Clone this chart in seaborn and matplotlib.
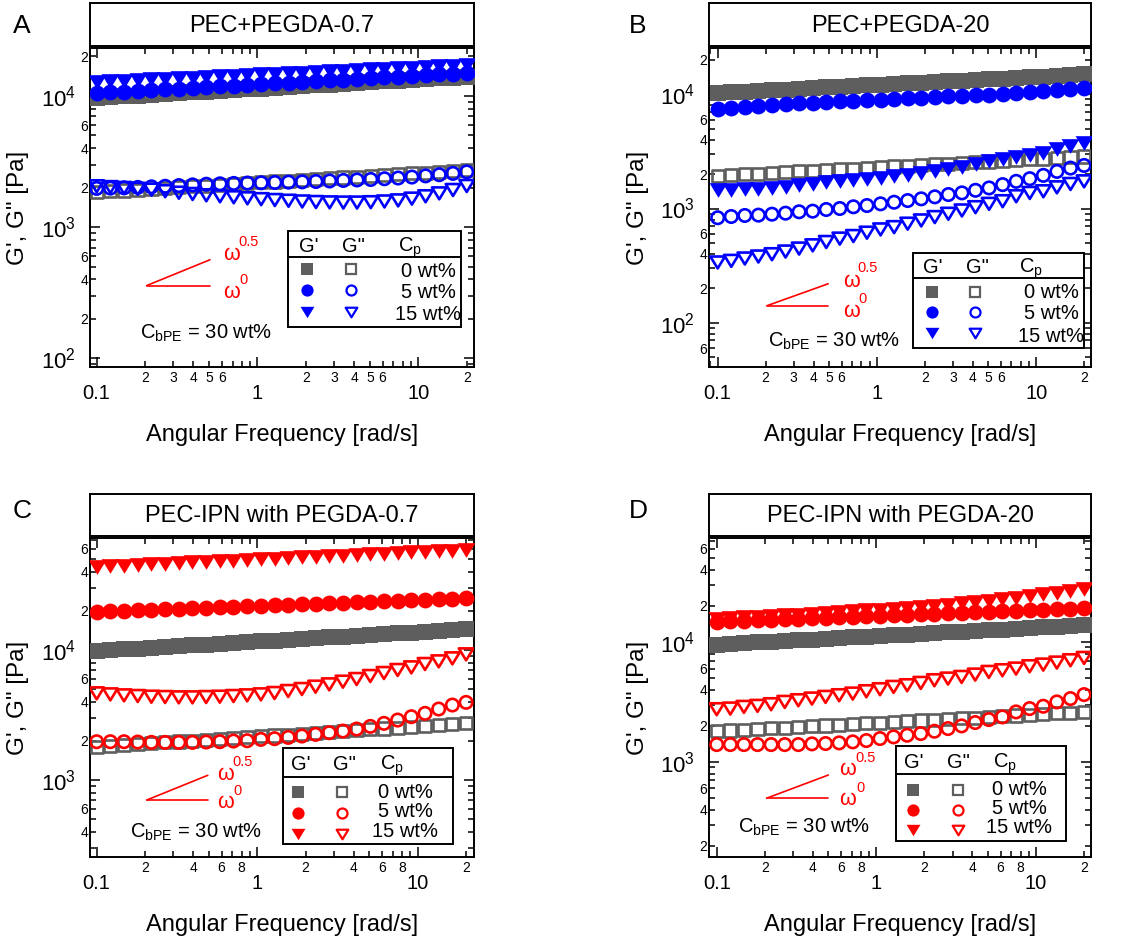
import numpy as np
import pandas as pd
import matplotlib
matplotlib.use("Agg")
import matplotlib.pyplot as plt
import seaborn as sns
from matplotlib.ticker import FixedLocator, FuncFormatter
from matplotlib.patches import Rectangle
from matplotlib.lines import Line2D
from matplotlib.path import Path

# ---------------- data ----------------
freq = [0.1, 0.1217, 0.1481, 0.1802, 0.2192, 0.2668, 0.3246, 0.3950, 0.4806,
        0.5848, 0.7116, 0.8658, 1.054, 1.282, 1.560, 1.898, 2.309, 2.810,
        3.419, 4.160, 5.062, 6.160, 7.495, 9.120, 11.10, 13.50, 16.43, 20.0]

# Panel A: PEC+PEGDA-0.7
A_Gp_0 = [9650, 9780, 9920, 10060, 10200, 10340, 10480, 10630, 10780, 10930, 11080, 11230, 11390, 11550,
          11710, 11870, 12040, 12200, 12370, 12550, 12720, 12900, 13080, 13260, 13440, 13630, 13820, 14010]
A_Gp_5 = [10500, 10640, 10780, 10930, 11070, 11220, 11370, 11520, 11670, 11830, 11980, 12140, 12310, 12470,
          12630, 12800, 12970, 13150, 13320, 13500, 13680, 13860, 14040, 14230, 14420, 14610, 14810, 15000]
A_Gp_15 = [12800, 12940, 13080, 13230, 13370, 13520, 13670, 13820, 13970, 14130, 14280, 14440, 14600, 14760,
           14920, 15080, 15250, 15420, 15590, 15760, 15930, 16110, 16280, 16460, 16640, 16830, 17010, 17200]
A_Gpp_0 = [1850, 1877, 1904, 1931, 1959, 1987, 2015, 2044, 2074, 2103, 2134, 2164, 2195, 2227,
           2259, 2291, 2324, 2358, 2391, 2426, 2461, 2496, 2532, 2568, 2605, 2643, 2681, 2719]
A_Gpp_5 = [1975, 1985, 1995, 2010, 2030, 2050, 2075, 2100, 2125, 2140, 2155, 2170, 2180, 2190,
           2205, 2215, 2230, 2250, 2270, 2290, 2310, 2340, 2370, 2410, 2460, 2510, 2570, 2640]
A_Gpp_15 = [2050, 2020, 1990, 1960, 1930, 1880, 1830, 1790, 1750, 1720, 1690, 1660, 1635, 1610,
            1590, 1570, 1555, 1545, 1540, 1540, 1550, 1570, 1600, 1650, 1720, 1810, 1920, 2060]

# Panel B: PEC+PEGDA-20
B_Gp_0 = [10260, 10400, 10550, 10690, 10840, 10990, 11150, 11300, 11460, 11620, 11780, 11940, 12110, 12280,
          12450, 12620, 12800, 12980, 13160, 13340, 13530, 13710, 13900, 14100, 14290, 14490, 14690, 14900]
B_Gp_5 = [7360, 7560, 7740, 7890, 8020, 8170, 8320, 8450, 8575, 8680, 8790, 8890, 8990, 9110,
          9230, 9360, 9480, 9590, 9700, 9820, 9940, 10100, 10270, 10440, 10620, 10870, 11150, 11430]
B_Gp_15 = [1443, 1460, 1478, 1496, 1514, 1555, 1600, 1645, 1694, 1730, 1770, 1810, 1850, 1910,
           1975, 2045, 2113, 2200, 2300, 2440, 2579, 2700, 2840, 2960, 3090, 3290, 3500, 3720]
B_Gpp_0 = [1937, 1965, 1993, 2022, 2051, 2081, 2111, 2141, 2172, 2203, 2235, 2267, 2300, 2333,
           2366, 2400, 2435, 2470, 2505, 2541, 2578, 2615, 2653, 2691, 2730, 2769, 2809, 2850]
B_Gpp_5 = [830, 851, 869, 875, 892, 910, 936, 948, 980, 1000, 1035, 1062, 1099, 1135,
           1174, 1215, 1265, 1325, 1370, 1443, 1514, 1618, 1729, 1824, 1950, 2112, 2259, 2381]
B_Gpp_15 = [337, 348, 365, 380, 398, 420, 446, 476, 509, 545, 574, 614, 656, 687,
            736, 786, 841, 899, 961, 1027, 1098, 1158, 1280, 1368, 1415, 1532, 1639, 1729]

# Panel C: PEC-IPN with PEGDA-0.7
C_Gp_0 = [9820, 9960, 10100, 10250, 10390, 10540, 10690, 10850, 11000, 11160, 11320, 11480, 11640, 11810,
          11980, 12150, 12320, 12500, 12680, 12860, 13040, 13230, 13420, 13610, 13800, 14000, 14200, 14400]
C_Gp_5 = [19700, 19880, 20050, 20230, 20410, 20590, 20770, 20960, 21140, 21330, 21520, 21710, 21900, 22100,
          22290, 22490, 22690, 22890, 23090, 23300, 23510, 23710, 23930, 24140, 24350, 24570, 24790, 25000]
C_Gp_15 = [43700, 44180, 44670, 45170, 45660, 46170, 46680, 47190, 47720, 48240, 48780, 49310, 49860, 50410,
           50970, 51530, 52100, 52680, 53260, 53850, 54440, 55040, 55650, 56260, 56890, 57510, 58150, 58790]
C_Gpp_0 = [1804, 1832, 1860, 1889, 1918, 1948, 1978, 2009, 2040, 2071, 2103, 2136, 2169, 2202,
           2236, 2271, 2306, 2342, 2378, 2415, 2452, 2490, 2529, 2568, 2607, 2648, 2689, 2730]
C_Gpp_5 = [1972, 1972, 1972, 1960, 1949, 1949, 1949, 1949, 1960, 1972, 1995, 2007, 2055, 2080,
           2129, 2181, 2246, 2313, 2382, 2468, 2587, 2729, 2894, 3070, 3257, 3518, 3776, 3957]
C_Gpp_15 = [4642, 4560, 4480, 4428, 4375, 4350, 4324, 4324, 4350, 4375, 4428, 4480, 4560, 4669,
            4838, 5012, 5223, 5444, 5706, 5983, 6310, 6655, 7019, 7356, 7804, 8180, 8627, 9262]

# Panel D: PEC-IPN with PEGDA-20
D_Gp_0 = [9500, 9631, 9765, 9900, 10040, 10180, 10320, 10460, 10600, 10750, 10900, 11050, 11200, 11360,
          11520, 11680, 11840, 12000, 12170, 12330, 12510, 12680, 12850, 13030, 13210, 13390, 13580, 13770]
D_Gp_5 = [14680, 14830, 14970, 15120, 15270, 15430, 15580, 15740, 15890, 16050, 16210, 16370, 16540, 16700,
          16870, 17030, 17200, 17380, 17550, 17720, 17900, 18080, 18260, 18440, 18630, 18810, 19000, 19190]
D_Gp_15 = [15650, 15850, 16050, 16260, 16470, 16680, 16900, 17220, 17450, 17670, 18010, 18360, 18600, 18960,
           19320, 19700, 20080, 20470, 21000, 21540, 22100, 22680, 23420, 24180, 24960, 25780, 26780, 27830]
D_Gpp_0 = [1803, 1828, 1853, 1879, 1905, 1931, 1958, 1985, 2012, 2040, 2068, 2097, 2126, 2155,
           2185, 2215, 2246, 2277, 2308, 2340, 2372, 2405, 2438, 2472, 2506, 2541, 2576, 2611]
D_Gpp_5 = [1394, 1394, 1394, 1394, 1394, 1394, 1394, 1413, 1422, 1440, 1468, 1506, 1565, 1616,
           1668, 1722, 1801, 1896, 1995, 2128, 2254, 2371, 2610, 2783, 2910, 3162, 3371, 3640]
D_Gpp_15 = [2748, 2783, 2873, 2929, 3024, 3162, 3265, 3371, 3481, 3594, 3710, 3880, 4033, 4217,
            4354, 4553, 4792, 4948, 5108, 5342, 5623, 5806, 5995, 6270, 6473, 6726, 7034, 7356]

titles = ["PEC+PEGDA-0.7", "PEC+PEGDA-20", "PEC-IPN with PEGDA-0.7", "PEC-IPN with PEGDA-20"]
panel_letters = ["A", "B", "C", "D"]
conc_labels = ["0 wt%", "5 wt%", "15 wt%"]
legend_header = ["G'", 'G"', r"C$_{\mathrm{p}}$"]
cbpe_label = r"C$_{\mathrm{bPE}}$ = 30 wt%"
x_label = "Angular Frequency [rad/s]"
y_label = "G', G\" [Pa]"
x_major = [0.1, 1, 10]
x_major_labels = ["0.1", "1", "10"]

# slope guide (omega^0.5 / omega^0): vertex x, end x, vertex y
guide_x = {"A": [0.2047, 0.5064], "B": [0.204, 0.494], "C": [0.205, 0.492], "D": [0.2056, 0.50]}
guide_y = {"A": 359, "B": 141, "C": 702, "D": 498}

series = {
    "A": [A_Gp_0, A_Gp_5, A_Gp_15, A_Gpp_0, A_Gpp_5, A_Gpp_15],
    "B": [B_Gp_0, B_Gp_5, B_Gp_15, B_Gpp_0, B_Gpp_5, B_Gpp_15],
    "C": [C_Gp_0, C_Gp_5, C_Gp_15, C_Gpp_0, C_Gpp_5, C_Gpp_15],
    "D": [D_Gp_0, D_Gp_5, D_Gp_15, D_Gpp_0, D_Gpp_5, D_Gpp_15],
}

GRAY = "#5e5e5e"
BLUE = "#0000ff"
RED = "#ff0000"

# ---------------- layout (pixels) ----------------
layout = {
    "A": dict(ax=(90, 48, 474, 367), tbox=(90, 3, 474, 46), xlim=(0.0909, 22.2), ylim=(86, 23200),
              xminor_lab=[2, 3, 4, 5, 6], color=BLUE, letter=(13, 33), ylx=-0.1875,
              omega=[(223, 260), (238, 246), (223, 298), (239, 284)], cbpe=(140, 339),
              leg=dict(box=(288, 231, 461, 327), sep=257, head_base=252, head_x=(299, 342, 398),
                       col=(307, 351), rows=(269, 290, 312), txt_c=428, txt_base=(277, 298, 320))),
    "B": dict(ax=(709, 48, 1091, 367), tbox=(709, 3, 1091, 46), xlim=(0.0882, 22.1), ylim=(41, 25400),
              xminor_lab=[2, 3, 4, 5, 6], color=BLUE, letter=(629, 33), ylx=-0.186,
              omega=[(843, 287), (857, 272), (843, 317), (858, 303)], cbpe=(768, 347),
              leg=dict(box=(913, 253, 1084, 348), sep=278, head_base=273, head_x=(923, 966, 1019),
                       col=(932, 975), rows=(292, 312, 333), txt_c=1051, txt_base=(298, 319, 342))),
    "C": dict(ax=(90, 538, 474, 857), tbox=(90, 494, 474, 536), xlim=(0.0909, 22.4), ylim=(256, 72700),
              xminor_lab=[2, 4, 6, 8], color=RED, letter=(13, 518), ylx=-0.1875,
              omega=[(217, 780), (232, 766), (217, 808), (233, 795)], cbpe=(130, 838),
              leg=dict(box=(283, 748, 453, 844), sep=777, head_base=770, head_x=(291, 333, 380),
                       col=(298, 342), rows=(792, 813, 834), txt_c=405, txt_base=(798, 817, 837))),
    "D": dict(ax=(709, 538, 1091, 857), tbox=(709, 494, 1091, 536), xlim=(0.0895, 22.1), ylim=(161, 73600),
              xminor_lab=[2, 4, 6, 8], color=RED, letter=(629, 518), ylx=-0.186,
              omega=[(839, 775), (855, 762), (839, 805), (856, 792)], cbpe=(738, 833),
              leg=dict(box=(896, 746, 1066, 841), sep=774, head_base=768, head_x=(904, 947, 993),
                       col=(913, 958), rows=(790, 810, 830), txt_c=1019, txt_base=(795, 814, 833))),
}

# ---------------- style ----------------
sns.set_style("ticks")
plt.rcParams["font.family"] = ["Liberation Sans", "DejaVu Sans"]
plt.rcParams["mathtext.fontset"] = "custom"
plt.rcParams["mathtext.rm"] = "Liberation Sans"
plt.rcParams["mathtext.it"] = "Liberation Sans:italic"
plt.rcParams["mathtext.bf"] = "Liberation Sans:bold"
plt.rcParams["mathtext.default"] = "regular"
for k in ["text.color", "axes.labelcolor", "xtick.color", "ytick.color", "xtick.labelcolor",
          "ytick.labelcolor", "axes.edgecolor"]:
    plt.rcParams[k] = "black"

W, H = 1143, 944
fig = plt.figure(figsize=(W / 100, H / 100), dpi=100)


def P(x, y):
    return (x / W, 1 - y / H)


def rect(box):
    x0, y0, x1, y1 = box
    return [x0 / W, 1 - y1 / H, (x1 - x0) / W, (y1 - y0) / H]


LW = 1.4
TRI = Path([(-1.0, 0.82), (1.0, 0.82), (0.0, -0.82), (-1.0, 0.82)],
           [Path.MOVETO, Path.LINETO, Path.LINETO, Path.CLOSEPOLY])
filled_style = [("s", 125), ("o", 130), (TRI, 165)]
open_style = [("s", 76), ("o", 80), (TRI, 110)]
legend_filled = [("s", 8.0), ("o", 8.8), (TRI, 10.0)]
legend_open = [("s", 6.6), ("o", 7.2), (TRI, 8.4)]


def minor_fmt(labels):
    def f(v, pos):
        e = np.floor(np.log10(v) + 1e-9)
        m = int(round(v / 10 ** e))
        return str(m) if m in labels else ""
    return FuncFormatter(f)


for key, title in zip(panel_letters, titles):
    L = layout[key]
    ax = fig.add_axes(rect(L["ax"]))
    ax.set_xscale("log")
    ax.set_yscale("log")
    ax.set_xlim(*L["xlim"])
    ax.set_ylim(*L["ylim"])
    cols = [GRAY, L["color"], L["color"]]
    s_list = series[key]
    # storage modulus (filled)
    for i in range(3):
        m, s = filled_style[i]
        df = pd.DataFrame({"freq": freq, "G": s_list[i]})
        sns.scatterplot(data=df, x="freq", y="G", ax=ax, marker=m, s=s, color=cols[i],
                        linewidth=0, zorder=3 + i)
    # loss modulus (open)
    for i in range(3):
        m, s = open_style[i]
        df = pd.DataFrame({"freq": freq, "G": s_list[3 + i]})
        sns.scatterplot(data=df, x="freq", y="G", ax=ax, marker=m, s=s, color=cols[i],
                        facecolor="none", edgecolor=cols[i], linewidth=1.9, zorder=3 + i)
    # slope guide
    gx = guide_x[key]
    gy = guide_y[key]
    ax.plot(gx, [gy, gy * (gx[1] / gx[0]) ** 0.5], color=RED, lw=1.2, zorder=6)
    ax.plot(gx, [gy, gy], color=RED, lw=1.2, zorder=6)

    # ticks
    ax.xaxis.set_major_locator(FixedLocator(x_major))
    ax.xaxis.set_major_formatter(FuncFormatter(
        lambda v, p: x_major_labels[int(np.argmin([abs(np.log10(t) - np.log10(v)) for t in x_major]))]))
    xminor = [m * 10.0 ** e for e in (-2, -1, 0, 1) for m in range(2, 10)]
    ax.xaxis.set_minor_locator(FixedLocator(xminor))
    ax.xaxis.set_minor_formatter(minor_fmt(L["xminor_lab"]))
    ax.yaxis.set_major_locator(FixedLocator([1e1, 1e2, 1e3, 1e4, 1e5]))
    ax.yaxis.set_major_formatter(FuncFormatter(lambda v, p: r"$10^{%d}$" % round(np.log10(v))))
    yminor = [m * 10.0 ** e for e in (0, 1, 2, 3, 4) for m in range(2, 10)]
    ax.yaxis.set_minor_locator(FixedLocator(yminor))
    ax.yaxis.set_minor_formatter(minor_fmt([2, 4, 6]))
    ax.tick_params(which="both", direction="in", top=True, right=True, width=1.1, color="black",
                   labelcolor="black")
    ax.tick_params(which="major", length=7.5)
    ax.tick_params(which="minor", length=4.5, labelsize=10)
    ax.tick_params(axis="x", which="major", pad=12, labelsize=14.5)
    ax.tick_params(axis="x", which="minor", pad=3.0)
    ax.tick_params(axis="y", which="major", pad=10, labelsize=16)
    ax.tick_params(axis="y", which="minor", pad=1.5)
    for sp in ax.spines.values():
        sp.set_linewidth(LW)
        sp.set_color("black")
        sp.set_visible(True)

    ax.set_xlabel(x_label, fontsize=17, color="black")
    ax.set_ylabel(y_label, fontsize=17.5, color="black")
    ax.xaxis.set_label_coords(0.5, -0.213)
    ax.xaxis.label.set_va("center")
    ax.yaxis.set_label_coords(L["ylx"], 0.5)
    ax.yaxis.label.set_va("center")

    # title box
    tax = fig.add_axes(rect(L["tbox"]))
    tax.set_xticks([])
    tax.set_yticks([])
    for sp in tax.spines.values():
        sp.set_linewidth(LW)
        sp.set_color("black")
        sp.set_visible(True)
    tax.text(0.5, 0.47, title, ha="center", va="center", fontsize=17, color="black",
             transform=tax.transAxes)

    # panel letter
    fig.text(*P(*L["letter"]), key, fontsize=19, ha="left", va="baseline", color="black")

    # omega annotations
    om = L["omega"]
    fig.text(*P(*om[0]), "\u03c9", color=RED, fontsize=15.5, ha="left", va="baseline")
    fig.text(*P(*om[1]), "0.5", color=RED, fontsize=10.5, ha="left", va="baseline")
    fig.text(*P(*om[2]), "\u03c9", color=RED, fontsize=15.5, ha="left", va="baseline")
    fig.text(*P(*om[3]), "0", color=RED, fontsize=10.5, ha="left", va="baseline")

    # C_bPE text
    fig.text(*P(*L["cbpe"]), cbpe_label, fontsize=14.5, ha="left", va="baseline", color="black")

    # legend table
    lg = L["leg"]
    x0, y0, x1, y1 = lg["box"]
    fx0, fy1 = P(x0, y1)
    fig.add_artist(Rectangle((fx0, fy1), (x1 - x0) / W, (y1 - y0) / H, transform=fig.transFigure,
                             facecolor="white", edgecolor="black", lw=LW, zorder=10))
    fig.add_artist(Line2D([x0 / W, x1 / W], [1 - lg["sep"] / H] * 2, transform=fig.transFigure,
                          color="black", lw=LW, zorder=11))
    for hx, htxt in zip(lg["head_x"], legend_header):
        fig.text(*P(hx, lg["head_base"]), htxt, fontsize=14.5, ha="left", va="baseline",
                 color="black", zorder=12)
    for i in range(3):
        ry = lg["rows"][i]
        m, ms = legend_filled[i]
        fig.add_artist(Line2D([lg["col"][0] / W], [1 - ry / H], transform=fig.transFigure, marker=m,
                              markersize=ms, color=cols[i], markeredgewidth=0, linestyle="none",
                              zorder=12))
        m, ms = legend_open[i]
        fig.add_artist(Line2D([lg["col"][1] / W], [1 - ry / H], transform=fig.transFigure, marker=m,
                              markersize=ms, markerfacecolor="none", markeredgecolor=cols[i],
                              markeredgewidth=1.6, linestyle="none", zorder=12))
        fig.text(*P(lg["txt_c"], lg["txt_base"][i]), conc_labels[i], fontsize=14.5, ha="center",
                 va="baseline", color="black", zorder=12)

fig.savefig("out.png", dpi=100)
